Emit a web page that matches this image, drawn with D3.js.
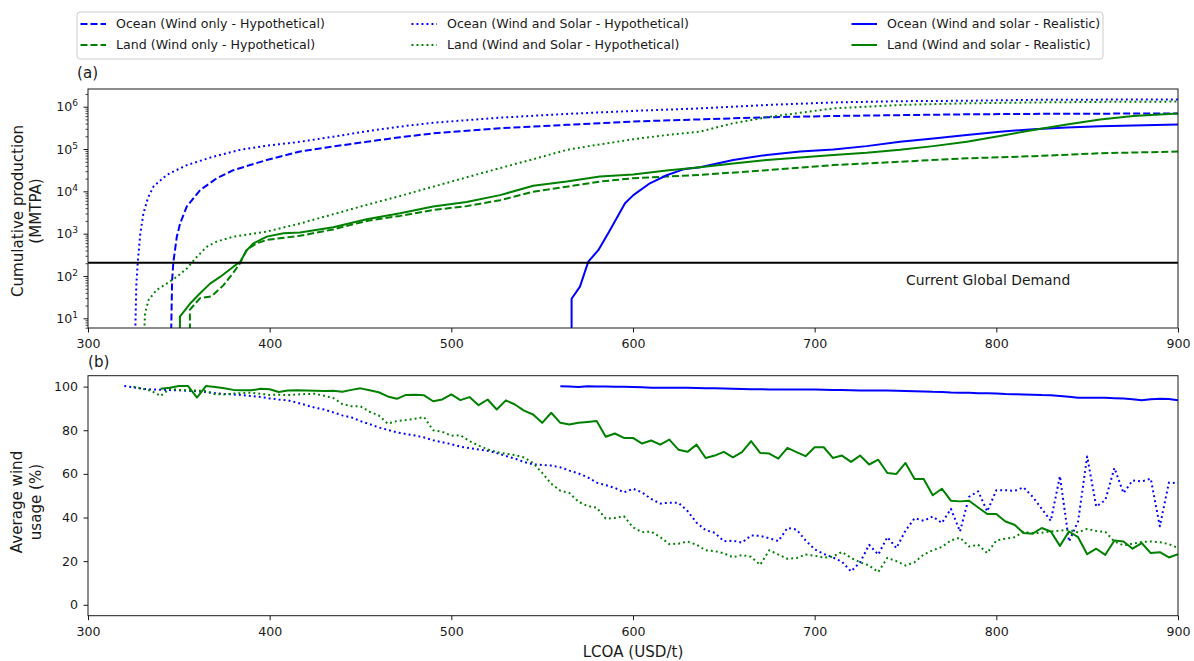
<!DOCTYPE html>
<meta charset="utf-8">
<style>
    body {
        margin: 0;
        background: #fff;
    }

    svg text {
        font-family: "DejaVu Sans", sans-serif;
        fill: #1a1a1a;
    }

    .frame {
        fill: none;
        stroke: #1a1a1a;
        stroke-width: 1px;
    }

    .tick line {
        stroke: #1a1a1a;
    }

    .tick text {
        font-size: 12.6px;
    }

    .series {
        fill: none;
        stroke-width: 2px;
        stroke-linejoin: round;
    }
</style>

<body>
    <script src="https://cdn.jsdelivr.net/npm/d3@7"></script>
    <script>
        // ---------------- data ----------------
        // (a) cumulative production in MMTPA, pairs of [LCOA USD/t, production]
        var oceanWindOnlyProd = [
            [345.7, 3], [346.3, 80], [347, 215], [348.9, 850], [350.7, 1740], [354.4, 4400],
            [361.7, 10700], [370.9, 20400], [380, 31600], [398.4, 55000], [416.7, 87000],
            [435, 115000], [453.4, 148000], [471.8, 190000], [490, 234000], [526.8, 309000],
            [563.5, 372000], [600, 447000], [636.9, 501000], [673.6, 562000], [710.3, 603000],
            [747, 631000], [783.7, 661000], [820.4, 676000], [860, 685000], [900, 692000]
        ];
        var oceanWindSolarProd = [
            [325.9, 3], [326.6, 60], [327.4, 215], [328.8, 1000], [330.5, 3000], [333, 7000],
            [336, 12900], [343.3, 24500], [354.4, 41700], [369, 66000], [383.7, 95500],
            [398.4, 120000], [416.7, 148000], [435, 195000], [453.4, 263000], [471.8, 339000],
            [490, 417000], [526.8, 550000], [563.5, 676000], [600, 794000], [636.9, 912000],
            [673.6, 1100000], [710.3, 1260000], [747, 1350000], [783.7, 1380000],
            [820.4, 1450000], [860, 1470000], [900, 1480000]
        ];
        var landWindOnlyProd = [
            [356.1, 3], [356.1, 16], [361.7, 30], [368, 33], [374.5, 60], [380, 120],
            [383.7, 200], [387.4, 420], [392.9, 590], [398.4, 710], [416.7, 890], [435, 1260],
            [453.4, 2000], [471.8, 2630], [490, 3630], [508.4, 4470], [526.8, 6170],
            [545.1, 9770], [563.5, 12900], [581.8, 17000], [600, 20400], [618.5, 22400],
            [636.9, 24500], [673.6, 31600], [710.3, 41700], [747, 50100], [783.7, 60300],
            [820.4, 67600], [857.1, 79400], [900, 87100]
        ];
        var landWindSolarProd = [
            [330.8, 3], [331.4, 13], [333.3, 27], [337.8, 47], [343.3, 66], [348.9, 95],
            [354.4, 150], [359.8, 280], [365.4, 490], [370.9, 650], [380, 850], [398.4, 1120],
            [416.7, 1740], [435, 2880], [453.4, 4790], [471.8, 7760], [490, 12900],
            [508.4, 21400], [526.8, 35500], [545.1, 57500], [563.5, 95500], [581.8, 129000],
            [600, 170000], [618.5, 214000], [636.9, 257000], [655.2, 407000], [673.6, 562000],
            [710.3, 912000], [747, 1100000], [783.7, 1200000], [820.4, 1260000],
            [860, 1300000], [900, 1320000]
        ];
        var oceanRealProd = [
            [566.2, 3], [566.2, 29], [570.8, 56], [575.4, 219], [580.9, 407], [587.3, 1200],
            [595.6, 5250], [600.2, 8130], [609.3, 15500], [618.5, 24000], [627.7, 33100],
            [636.9, 37200], [655.2, 55000], [673.6, 72400], [692, 87100], [710.3, 97700],
            [728.6, 117000], [747, 148000], [765.3, 178000], [783.7, 214000], [802, 257000],
            [820.4, 295000], [838.8, 324000], [857.1, 347000], [900, 380000]
        ];
        var landRealProd = [
            [350.6, 3], [350.6, 11], [356.1, 22], [361.7, 39], [367.2, 66], [372.7, 95],
            [380, 166], [383.7, 214], [387.4, 407], [391, 589], [398.4, 851], [407.6, 1020],
            [416.7, 1070], [435, 1410], [453.4, 2190], [471.8, 3020], [490, 4370],
            [508.4, 5620], [526.8, 8130], [545.1, 13500], [563.5, 17000], [581.8, 22400],
            [600, 25100], [618.5, 30900], [636.9, 37200], [655.2, 45700], [673.6, 55000],
            [692, 63100], [710.3, 72400], [728.6, 81300], [747, 95500], [765.3, 117000],
            [783.7, 148000], [802, 204000], [820.4, 282000], [838.8, 380000], [857.1, 501000],
            [875.4, 603000], [900, 692000]
        ];
        var globalDemand = 205;

        // (b) average wind usage in %, one value every 5 USD/t from the start LCOA
        var usageStep = 5;
        var oceanHypoUsageStart = 320;
        var oceanHypoUsage = [
            100.3, 99.7, 99, 98.7, 98.6, 98.4, 98.3, 98.1, 97.9, 97.5,
            97, 96.6, 96.4, 96.1, 95.7, 95.2, 94.6, 94.1, 93.7, 92.7,
            91.5, 90.3, 89.5, 88.2, 86.8, 85.9, 84.2, 82.8, 81.3, 80.2,
            79, 78.3, 77.6, 76.7, 75.4, 74.5, 73.6, 72.5, 71.8, 71.2,
            70.6, 69.5, 68.2, 67, 65.5, 64.4, 64.1, 63.8, 63, 61.5,
            60.2, 58.5, 56, 54.8, 53.6, 51.5, 53.2, 51.5, 48.5, 46.4,
            46.8, 46.8, 43, 37.6, 34.2, 33, 29.1, 29.4, 28.5, 31.8,
            31.6, 30.5, 29.2, 35.2, 34.5, 29.5, 25.4, 23.3, 21.7, 19.8,
            15.3, 19.5, 27.5, 23, 31, 26, 34, 39.7, 38.5, 40.5,
            37.5, 44, 33.6, 49.5, 52, 42.8, 52.5, 52.5, 52.2, 53.8,
            49.5, 44, 38.5, 59, 29, 38.2, 68, 45, 48, 62.7,
            51.2, 57, 56.5, 57.8, 36, 56, 55.8
        ];
        var landHypoUsageStart = 325;
        var landHypoUsage = [
            100, 99, 98, 95.7, 99, 98.5, 98.3, 98.2, 98, 96.5,
            96.4, 96.8, 97, 97.2, 96.7, 96.2, 96.3, 96.1, 96.4, 96.6,
            96.7, 95.8, 94.8, 92, 91, 91, 88.5, 86.8, 83, 84.2,
            84.7, 85.3, 86, 80, 79.3, 77.5, 77.7, 75, 73, 71.2,
            70, 69.2, 68.6, 67.5, 65, 60.5, 55.5, 52.3, 51.2, 47.2,
            45.3, 44.5, 39.5, 39.8, 40.6, 35.5, 33.3, 33.6, 31, 27.8,
            28, 29, 27.5, 25, 24.6, 23.6, 21.8, 22.8, 22, 18.3,
            25, 23, 21.1, 21.4, 23, 22.5, 21.6, 22.1, 24.2, 21.5,
            19.5, 18, 15, 21.5, 20, 18, 19.5, 23, 25, 26.5,
            29.5, 30.8, 26.7, 27.5, 23.7, 29.5, 30.3, 31, 33.4, 32.8,
            33, 33.6, 34, 34.3, 33.2, 34.8, 33.8, 33.4, 29, 27.2,
            28, 28.8, 29, 28.7, 27.8, 26
        ];
        var landRealUsageStart = 340;
        var landRealUsage = [
            99, 99.5, 100.3, 100.3, 95, 100.3, 99.8, 99.2, 98.5, 98.3,
            98.3, 99, 98.8, 97.5, 98.2, 98.3, 98.2, 98.1, 98, 98.1,
            97.6, 98.5, 99.2, 98.3, 97.4, 95.5, 94.4, 96.2, 96.3, 96,
            93.3, 94.1, 96.4, 93.8, 95.2, 91.5, 94.1, 89.5, 93.7, 91.8,
            89, 87.2, 83.4, 88, 83.4, 82.6, 83.4, 83.8, 84.2, 77,
            78.5, 76.5, 76.5, 73.9, 75.3, 73.4, 75.7, 71.1, 70.1, 73.4,
            67.3, 68.4, 70.1, 67.6, 70, 75, 69.6, 69.3, 67, 71.9,
            70, 68.1, 72.2, 72.2, 67.3, 68.4, 65.5, 68.4, 64.3, 66.5,
            60.4, 60, 65, 57.7, 57.7, 50.2, 53.2, 47.7, 47.4, 47.7,
            44.6, 41.6, 41.6, 38.2, 36.7, 32.9, 32.6, 35.2, 33.6, 27,
            33.6, 31, 23.2, 25.7, 22.9, 29.5, 29, 25.7, 28.3, 23.7,
            24.1, 21.7, 23.2
        ];
        var oceanRealUsageStart = 560;
        var oceanRealUsage = [
            100.2, 100, 99.8, 100.2, 100, 100, 99.9, 99.9, 99.8, 99.7,
            99.5, 99.5, 99.5, 99.5, 99.5, 99.4, 99.3, 99.2, 99.1, 99,
            98.9, 98.8, 98.8, 98.7, 98.7, 98.7, 98.7, 98.7, 98.7, 98.6,
            98.5, 98.4, 98.3, 98.2, 98.2, 98.2, 98.2, 98.1, 98, 97.9,
            97.8, 97.6, 97.5, 97.3, 97.2, 97.2, 97, 96.9, 96.8, 96.6,
            96.5, 96.4, 96.3, 96.1, 96, 95.7, 95.3, 94.9, 94.9, 94.9,
            94.9, 94.7, 94.5, 94.2, 93.7, 94.2, 94.4, 94.3, 93.7
        ];

        var xTicks = [300, 400, 500, 600, 700, 800, 900];
        var prodTicks = [1e1, 1e2, 1e3, 1e4, 1e5, 1e6];
        var usageTicks = [0, 20, 40, 60, 80, 100];

        var legendLabels = [
            "Ocean (Wind only - Hypothetical)",
            "Land (Wind only - Hypothetical)",
            "Ocean (Wind and Solar - Hypothetical)",
            "Land (Wind and Solar - Hypothetical)",
            "Ocean (Wind and solar - Realistic)",
            "Land (Wind and solar - Realistic)"
        ];

        // ---------------- layout ----------------
        var width = 1194,
            height = 661;
        var plotLeft = 88,
            plotRight = 1178;
        var aTop = 89,
            aBottom = 328,
            bTop = 375.7,
            bBottom = 615.7;

        var blue = "#0000ff",
            green = "#008000";
        var dashes = {
            dashed: "7,3",
            dotted: "1.9,3.1",
            solid: null
        };

        var svg = d3.select("body").append("svg")
            .attr("width", width)
            .attr("height", height);

        var x = d3.scaleLinear().domain([300, 900]).range([plotLeft, plotRight]);
        var yProd = d3.scaleLog()
            .domain([Math.pow(10, 0.771), Math.pow(10, 6.418)])
            .range([aBottom, aTop]);
        var yUsage = d3.scaleLinear().domain([-5, 105]).range([bBottom, bTop]);

        // clip paths so the vertical starts stop at the frame
        var defs = svg.append("defs");
        defs.append("clipPath").attr("id", "clipA").append("rect")
            .attr("x", plotLeft).attr("y", aTop)
            .attr("width", plotRight - plotLeft).attr("height", aBottom - aTop);
        defs.append("clipPath").attr("id", "clipB").append("rect")
            .attr("x", plotLeft).attr("y", bTop)
            .attr("width", plotRight - plotLeft).attr("height", bBottom - bTop);

        function toPoints(start, values) {
            return values.map(function (v, i) {
                return [start + i * usageStep, v];
            });
        }

        var prodSeries = [
            { data: oceanWindOnlyProd, color: blue, dash: "dashed" },
            { data: landWindOnlyProd, color: green, dash: "dashed" },
            { data: oceanWindSolarProd, color: blue, dash: "dotted" },
            { data: landWindSolarProd, color: green, dash: "dotted" },
            { data: oceanRealProd, color: blue, dash: "solid" },
            { data: landRealProd, color: green, dash: "solid" }
        ];
        var usageSeries = [
            { data: toPoints(oceanHypoUsageStart, oceanHypoUsage), color: blue, dash: "dotted" },
            { data: toPoints(landHypoUsageStart, landHypoUsage), color: green, dash: "dotted" },
            { data: toPoints(oceanRealUsageStart, oceanRealUsage), color: blue, dash: "solid" },
            { data: toPoints(landRealUsageStart, landRealUsage), color: green, dash: "solid" }
        ];

        // ---------------- panel (a) ----------------
        var lineA = d3.line().x(d => x(d[0])).y(d => yProd(d[1]));

        svg.append("g")
            .attr("clip-path", "url(#clipA)")
            .selectAll("path")
            .data(prodSeries)
            .enter().append("path")
            .attr("class", "series")
            .attr("d", d => lineA(d.data))
            .attr("stroke", d => d.color)
            .attr("stroke-dasharray", d => dashes[d.dash]);

        // demand line + label
        svg.append("line")
            .attr("x1", plotLeft).attr("x2", plotRight)
            .attr("y1", yProd(globalDemand)).attr("y2", yProd(globalDemand))
            .attr("stroke", "#000").attr("stroke-width", 2);
        svg.append("text")
            .attr("x", 906).attr("y", 284.5)
            .attr("font-size", "13.9px")
            .text("Current Global Demand");

        svg.append("rect").attr("class", "frame")
            .attr("x", plotLeft).attr("y", aTop)
            .attr("width", plotRight - plotLeft).attr("height", aBottom - aTop);

        svg.append("g")
            .attr("transform", "translate(0," + aBottom + ")")
            .call(d3.axisBottom(x).tickValues(xTicks).tickSize(4.5).tickPadding(7).tickSizeOuter(0))
            .call(g => g.select(".domain").remove());

        // minor log ticks
        var minorTicks = [];
        for (var e = 0; e <= 6; e++) {
            for (var m = 2; m <= 9; m++) {
                var v = m * Math.pow(10, e);
                if (v >= yProd.domain()[0] && v <= yProd.domain()[1]) minorTicks.push(v);
            }
        }
        svg.append("g")
            .attr("transform", "translate(" + plotLeft + ",0)")
            .call(d3.axisLeft(yProd).tickValues(minorTicks).tickSize(2.5).tickFormat(""))
            .call(g => g.select(".domain").remove())
            .selectAll("line").attr("stroke-width", 0.8);

        var yAxisA = svg.append("g")
            .attr("transform", "translate(" + plotLeft + ",0)")
            .call(d3.axisLeft(yProd).tickValues(prodTicks).tickSize(4.5).tickPadding(5.5))
            .call(g => g.select(".domain").remove());
        yAxisA.selectAll(".tick text").each(function (d) {
            var t = d3.select(this).text("");
            t.append("tspan").text("10");
            t.append("tspan").attr("dy", "-0.55em").attr("font-size", "0.72em")
                .text(Math.round(Math.log10(d)));
        });

        svg.append("text")
            .attr("x", 77).attr("y", 78)
            .attr("font-size", "15.1px")
            .text("(a)");

        var labelA = svg.append("text")
            .attr("transform", "translate(22.5,211) rotate(-90)")
            .attr("text-anchor", "middle")
            .attr("font-size", "15.1px");
        labelA.append("tspan").attr("x", 0).attr("dy", 0).text("Cumulative production");
        labelA.append("tspan").attr("x", 0).attr("dy", "18.5").text("(MMTPA)");

        // ---------------- panel (b) ----------------
        var lineB = d3.line().x(d => x(d[0])).y(d => yUsage(d[1]));

        svg.append("g")
            .attr("clip-path", "url(#clipB)")
            .selectAll("path")
            .data(usageSeries)
            .enter().append("path")
            .attr("class", "series")
            .attr("d", d => lineB(d.data))
            .attr("stroke", d => d.color)
            .attr("stroke-dasharray", d => dashes[d.dash]);

        svg.append("rect").attr("class", "frame")
            .attr("x", plotLeft).attr("y", bTop)
            .attr("width", plotRight - plotLeft).attr("height", bBottom - bTop);

        svg.append("g")
            .attr("transform", "translate(0," + bBottom + ")")
            .call(d3.axisBottom(x).tickValues(xTicks).tickSize(4.5).tickPadding(7).tickSizeOuter(0))
            .call(g => g.select(".domain").remove());

        svg.append("g")
            .attr("transform", "translate(" + plotLeft + ",0)")
            .call(d3.axisLeft(yUsage).tickValues(usageTicks).tickSize(4.5).tickPadding(5.5).tickSizeOuter(0))
            .call(g => g.select(".domain").remove());

        svg.append("text")
            .attr("x", 88).attr("y", 367)
            .attr("font-size", "15.1px")
            .text("(b)");

        var labelB = svg.append("text")
            .attr("transform", "translate(22,502) rotate(-90)")
            .attr("text-anchor", "middle")
            .attr("font-size", "15.1px");
        labelB.append("tspan").attr("x", 0).attr("dy", 0).text("Average wind");
        labelB.append("tspan").attr("x", 0).attr("dy", "18.5").text("usage (%)");

        svg.append("text")
            .attr("x", (plotLeft + plotRight) / 2).attr("y", 657)
            .attr("text-anchor", "middle")
            .attr("font-size", "15.1px")
            .text("LCOA (USD/t)");

        // ---------------- legend ----------------
        var legend = svg.append("g");
        legend.append("rect")
            .attr("x", 77).attr("y", 12)
            .attr("width", 1026).attr("height", 47)
            .attr("rx", 3)
            .attr("fill", "#fff")
            .attr("stroke", "#cccccc");

        var colText = [116, 447, 887];
        var rowY = [24, 45];
        var legendItems = prodSeries.map(function (s, i) {
            return { label: legendLabels[i], color: s.color, dash: s.dash, col: Math.floor(i / 2), row: i % 2 };
        });
        var item = legend.selectAll("g.item")
            .data(legendItems)
            .enter().append("g")
            .attr("class", "item");
        item.append("line")
            .attr("x1", d => colText[d.col] - 35.5)
            .attr("x2", d => colText[d.col] - 10)
            .attr("y1", d => rowY[d.row])
            .attr("y2", d => rowY[d.row])
            .attr("stroke", d => d.color)
            .attr("stroke-width", 2)
            .attr("stroke-dasharray", d => dashes[d.dash]);
        item.append("text")
            .attr("x", d => colText[d.col])
            .attr("y", d => rowY[d.row] + 4.4)
            .attr("font-size", "12.6px")
            .text(d => d.label);
    </script>
</body>
